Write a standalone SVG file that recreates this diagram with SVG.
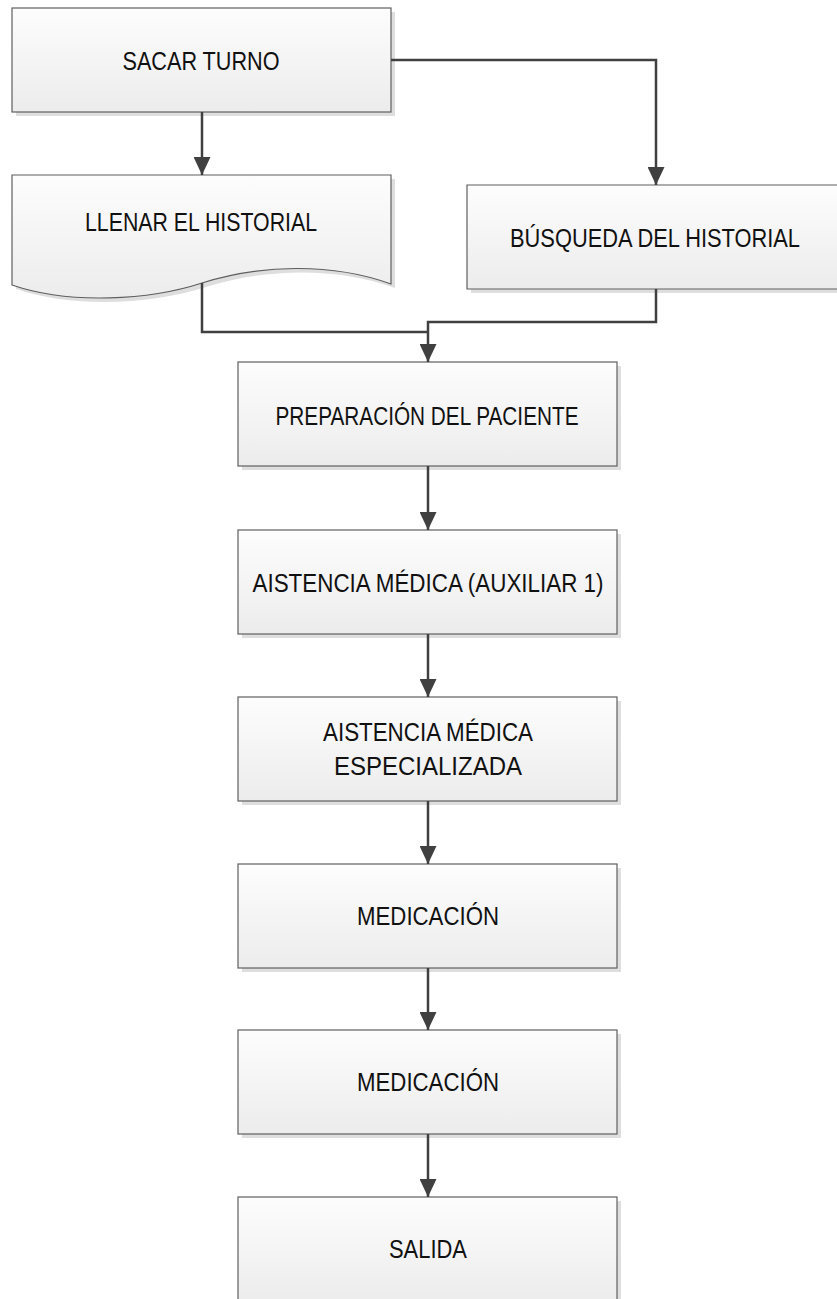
<svg xmlns="http://www.w3.org/2000/svg" width="837" height="1299" viewBox="0 0 837 1299">
  <style>
    .box { fill: url(#boxFill); stroke: #5f5f5f; stroke-width: 1.2; }
    .fill { fill: url(#boxFill); }
    .edge { fill: none; stroke: #5f5f5f; stroke-width: 1.2; }
    .shadow { fill: #dedede; }
    .label { font-family: "Liberation Sans", Arial, sans-serif; font-size: 25px; fill: #111; text-anchor: middle; }
    .conn { fill: none; stroke: #404040; stroke-width: 2.5; }
  </style>
  <defs>
    <linearGradient id="boxFill" x1="0" y1="0" x2="0" y2="1">
      <stop offset="0" stop-color="#fdfdfd"/>
      <stop offset="1" stop-color="#ececec"/>
    </linearGradient>
    <marker id="arrow" markerUnits="userSpaceOnUse" viewBox="0 0 18 17" refX="18" refY="8.5" markerWidth="18" markerHeight="17" orient="auto">
      <path d="M0,0 L18,8.5 L0,17 Z" fill="#404040"/>
    </marker>
  </defs>

  <rect width="837" height="1299" fill="#ffffff"/>

  <g id="sacar-turno">
    <rect class="shadow" x="16" y="12" width="379" height="104"/>
    <rect class="box" x="12" y="8" width="379" height="104"/>
    <text class="label" x="201" y="70" textLength="157" lengthAdjust="spacingAndGlyphs">SACAR TURNO</text>
  </g>

  <g id="llenar-historial">
    <path class="shadow" d="M16,179 H395 V288 C334,266 264,269 206,287 C154,304 74,309 16,289 Z"/>
    <path class="box" d="M12,175 H391 V284 C330,262 260,265 202,283 C150,300 70,305 12,285 Z"/>
    <text class="label" x="201" y="231" textLength="232" lengthAdjust="spacingAndGlyphs">LLENAR EL HISTORIAL</text>
  </g>

  <!-- this box runs past the right border of the page -->
  <g id="busqueda-historial">
    <rect class="shadow" x="471" y="189" width="366" height="104"/>
    <rect class="fill" x="467" y="185" width="370" height="104"/>
    <path class="edge" d="M837,185 H467 V289 H837"/>
    <text class="label" x="655" y="247" textLength="290" lengthAdjust="spacingAndGlyphs">BÚSQUEDA DEL HISTORIAL</text>
  </g>

  <g id="preparacion">
    <rect class="shadow" x="242" y="366" width="379" height="104"/>
    <rect class="box" x="238" y="362" width="379" height="104"/>
    <text class="label" x="427" y="425" textLength="303" lengthAdjust="spacingAndGlyphs">PREPARACIÓN DEL PACIENTE</text>
  </g>

  <g id="asistencia-auxiliar">
    <rect class="shadow" x="242" y="534" width="379" height="104"/>
    <rect class="box" x="238" y="530" width="379" height="104"/>
    <text class="label" x="428" y="592" textLength="351" lengthAdjust="spacingAndGlyphs">AISTENCIA MÉDICA (AUXILIAR 1)</text>
  </g>

  <g id="asistencia-especializada">
    <rect class="shadow" x="242" y="701" width="379" height="104"/>
    <rect class="box" x="238" y="697" width="379" height="104"/>
    <text class="label" x="428" y="741" textLength="210" lengthAdjust="spacingAndGlyphs">AISTENCIA MÉDICA</text>
    <text class="label" x="428" y="775" textLength="188" lengthAdjust="spacingAndGlyphs">ESPECIALIZADA</text>
  </g>

  <g id="medicacion-1">
    <rect class="shadow" x="242" y="868" width="379" height="104"/>
    <rect class="box" x="238" y="864" width="379" height="104"/>
    <text class="label" x="428" y="925" textLength="142" lengthAdjust="spacingAndGlyphs">MEDICACIÓN</text>
  </g>

  <g id="medicacion-2">
    <rect class="shadow" x="242" y="1034" width="379" height="104"/>
    <rect class="box" x="238" y="1030" width="379" height="104"/>
    <text class="label" x="428" y="1091" textLength="142" lengthAdjust="spacingAndGlyphs">MEDICACIÓN</text>
  </g>

  <g id="salida">
    <rect class="shadow" x="242" y="1201" width="379" height="104"/>
    <rect class="box" x="238" y="1197" width="379" height="104"/>
    <text class="label" x="428" y="1258" textLength="78" lengthAdjust="spacingAndGlyphs">SALIDA</text>
  </g>

  <!-- connectors, drawn over node shadows -->
  <g id="connectors">
    <path class="conn" d="M202,112 V175" marker-end="url(#arrow)"/>
    <path class="conn" d="M391,60 H656 V185" marker-end="url(#arrow)"/>
    <path class="conn" d="M202,283 V332 H428"/>
    <path class="conn" d="M656,289 V322 H428 V362" marker-end="url(#arrow)"/>
    <path class="conn" d="M428,466 V530" marker-end="url(#arrow)"/>
    <path class="conn" d="M428,634 V697" marker-end="url(#arrow)"/>
    <path class="conn" d="M428,801 V864" marker-end="url(#arrow)"/>
    <path class="conn" d="M428,968 V1030" marker-end="url(#arrow)"/>
    <path class="conn" d="M428,1134 V1197" marker-end="url(#arrow)"/>
  </g>
</svg>
